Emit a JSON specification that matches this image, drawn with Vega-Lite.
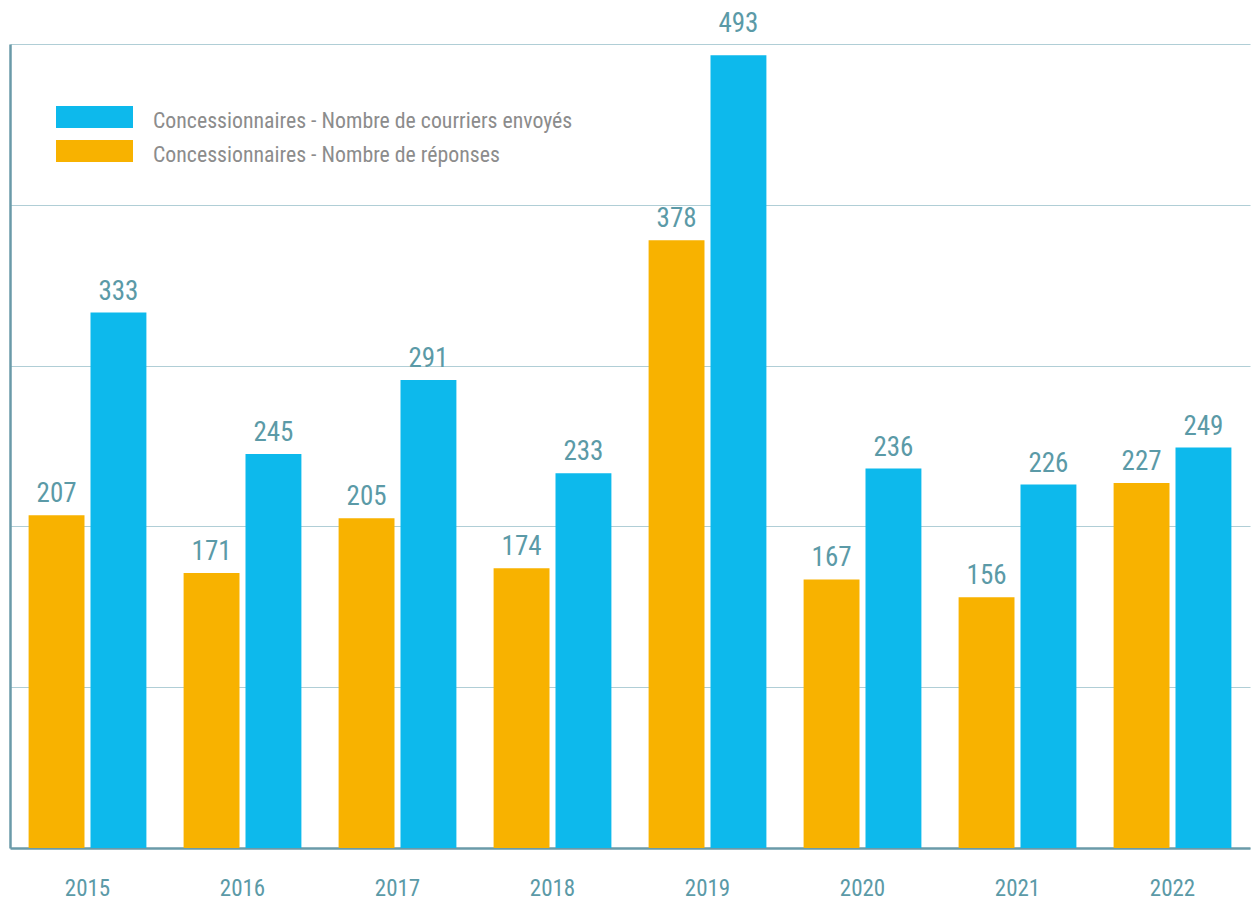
{
  "$schema": "https://vega.github.io/schema/vega-lite/v6.json",
  "width": 1240,
  "height": 804,
  "autosize": {"type": "none"},
  "padding": {"left": 10, "top": 44, "right": 2, "bottom": 53},
  "background": "white",
  "config": {
    "view": {"stroke": null},
    "font": "Liberation Sans Narrow, Roboto Condensed, Roboto, sans-serif"
  },
  "data": {
    "values": [
      {"year": "2015", "series": "Concessionnaires - Nombre de réponses", "value": 207},
      {"year": "2015", "series": "Concessionnaires - Nombre de courriers envoyés", "value": 333},
      {"year": "2016", "series": "Concessionnaires - Nombre de réponses", "value": 171},
      {"year": "2016", "series": "Concessionnaires - Nombre de courriers envoyés", "value": 245},
      {"year": "2017", "series": "Concessionnaires - Nombre de réponses", "value": 205},
      {"year": "2017", "series": "Concessionnaires - Nombre de courriers envoyés", "value": 291},
      {"year": "2018", "series": "Concessionnaires - Nombre de réponses", "value": 174},
      {"year": "2018", "series": "Concessionnaires - Nombre de courriers envoyés", "value": 233},
      {"year": "2019", "series": "Concessionnaires - Nombre de réponses", "value": 378},
      {"year": "2019", "series": "Concessionnaires - Nombre de courriers envoyés", "value": 493},
      {"year": "2020", "series": "Concessionnaires - Nombre de réponses", "value": 167},
      {"year": "2020", "series": "Concessionnaires - Nombre de courriers envoyés", "value": 236},
      {"year": "2021", "series": "Concessionnaires - Nombre de réponses", "value": 156},
      {"year": "2021", "series": "Concessionnaires - Nombre de courriers envoyés", "value": 226},
      {"year": "2022", "series": "Concessionnaires - Nombre de réponses", "value": 227},
      {"year": "2022", "series": "Concessionnaires - Nombre de courriers envoyés", "value": 249}
    ]
  },
  "encoding": {
    "x": {
      "field": "year", "type": "nominal",
      "scale": {"paddingInner": 0.24, "paddingOuter": 0.12},
      "axis": {
        "title": null, "labelAngle": 0, "ticks": false,
        "labelPadding": 29, "labelFontSize": 23, "labelColor": "#5b9aa7",
        "domainColor": "#6a9aa8", "domainWidth": 2.5, "grid": false
      }
    },
    "xOffset": {
      "field": "series", "type": "nominal",
      "scale": {
        "domain": ["Concessionnaires - Nombre de réponses", "Concessionnaires - Nombre de courriers envoyés"],
        "paddingInner": 0.097, "paddingOuter": 0
      }
    },
    "y": {
      "field": "value", "type": "quantitative",
      "scale": {"domain": [0, 500], "nice": false},
      "axis": {
        "title": null, "labels": false, "ticks": false,
        "values": [0, 100, 200, 300, 400, 500],
        "grid": true, "gridColor": "#b0ced6", "gridWidth": 1.2,
        "domainColor": "#6a9aa8", "domainWidth": 2.5
      }
    }
  },
  "layer": [
    {
      "mark": {"type": "bar"},
      "encoding": {
        "color": {
          "field": "series", "type": "nominal",
          "scale": {
            "domain": ["Concessionnaires - Nombre de courriers envoyés", "Concessionnaires - Nombre de réponses"],
            "range": ["#0db9ec", "#f8b200"]
          },
          "legend": {
            "title": null,
            "orient": "none",
            "legendX": 73.5,
            "legendY": 62,
            "padding": 0,
            "symbolType": "M-3.5,-1H3.5V1H-3.5Z",
            "symbolSize": 484,
            "symbolStrokeWidth": 0,
            "symbolOpacity": 1,
            "labelOffset": 47.5,
            "rowPadding": 7,
            "labelFontSize": 21.8,
            "labelColor": "#8c8c8c",
            "labelLimit": 0,
            "encode": {"labels": {"update": {"dy": {"value": 4}}}}
          }
        }
      }
    },
    {
      "transform": [{"filter": "datum.value < 450"}],
      "mark": {"type": "text", "baseline": "alphabetic", "dy": -13, "fontSize": 27, "color": "#5b9aa7"},
      "encoding": {
        "text": {"field": "value", "type": "quantitative"}
      }
    },
    {
      "transform": [{"filter": "datum.value >= 450"}],
      "mark": {"type": "text", "baseline": "alphabetic", "dy": -23, "fontSize": 27, "color": "#5b9aa7"},
      "encoding": {
        "text": {"field": "value", "type": "quantitative"}
      }
    }
  ]
}
